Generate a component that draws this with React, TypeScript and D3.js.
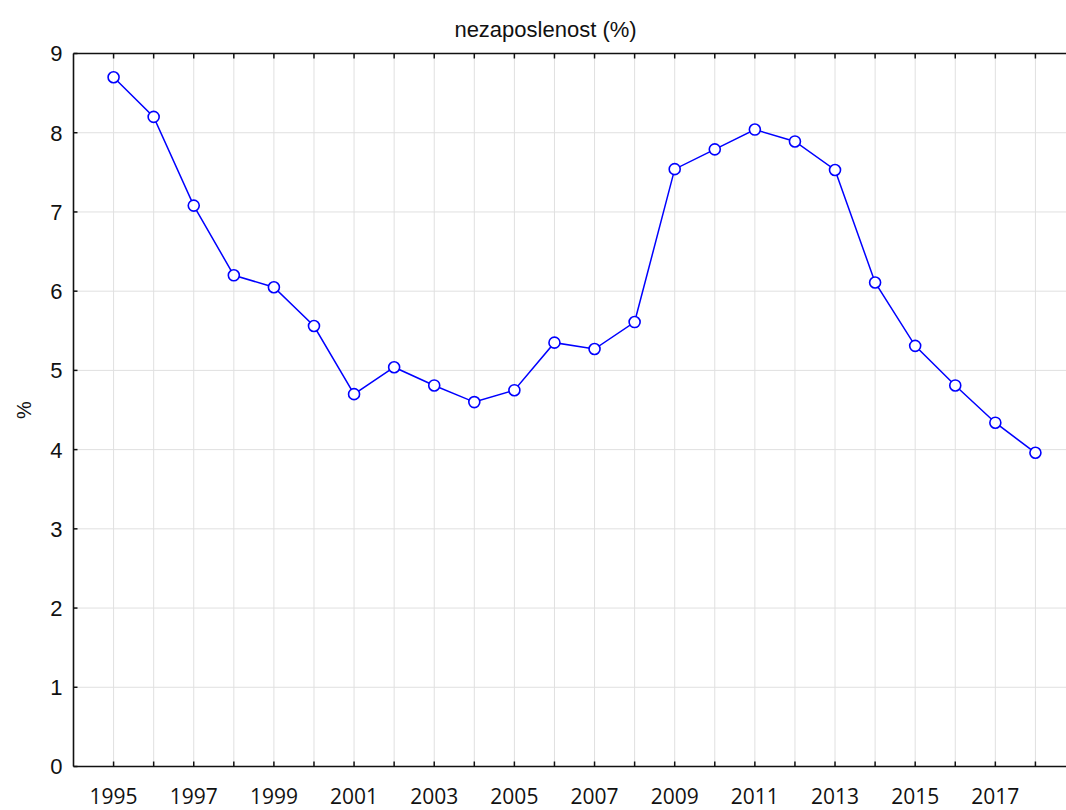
import React, { useEffect, useRef } from 'react';
import * as d3 from 'd3';

// unemployment rate by year
const years = [
  1995, 1996, 1997, 1998, 1999, 2000, 2001, 2002, 2003, 2004, 2005, 2006,
  2007, 2008, 2009, 2010, 2011, 2012, 2013, 2014, 2015, 2016, 2017, 2018,
];
const rates = [
  8.7, 8.2, 7.08, 6.2, 6.05, 5.56, 4.7, 5.04, 4.81, 4.6, 4.75, 5.35,
  5.27, 5.61, 7.54, 7.79, 8.04, 7.89, 7.53, 6.11, 5.31, 4.81, 4.34, 3.96,
];
const yTicks = [0, 1, 2, 3, 4, 5, 6, 7, 8, 9];
const xLabels = [1995, 1997, 1999, 2001, 2003, 2005, 2007, 2009, 2011, 2013, 2015, 2017];

const W = 1066;
const H = 810;

const App = () => {
  const ref = useRef<SVGSVGElement | null>(null);

  useEffect(() => {
    if (!ref.current) return;
    const svg = d3.select(ref.current);
    svg.selectAll('*').remove();

    const left = 73.5;
    const top = 53.5;
    const bottom = 766.5;

    const x = d3.scaleLinear().domain([1994, 2019]).range([left, left + 25 * 40.08]);
    const y = d3.scaleLinear().domain([0, 9]).range([bottom, top]);

    const g = svg.append('g');

    // grid
    g.selectAll('.vgrid')
      .data(years)
      .enter()
      .append('line')
      .attr('x1', d => x(d))
      .attr('x2', d => x(d))
      .attr('y1', top)
      .attr('y2', bottom)
      .attr('stroke', '#e0e0e0')
      .attr('stroke-width', 1);

    g.selectAll('.hgrid')
      .data(yTicks.filter(d => d > 0 && d < 9))
      .enter()
      .append('line')
      .attr('x1', left)
      .attr('x2', W)
      .attr('y1', d => y(d))
      .attr('y2', d => y(d))
      .attr('stroke', '#e0e0e0')
      .attr('stroke-width', 1);

    // frame lines
    const axisStroke = '#111';
    g.append('line').attr('x1', left).attr('x2', W).attr('y1', top).attr('y2', top)
      .attr('stroke', axisStroke).attr('stroke-width', 1.6);
    g.append('line').attr('x1', left).attr('x2', W).attr('y1', bottom).attr('y2', bottom)
      .attr('stroke', axisStroke).attr('stroke-width', 1.6);
    g.append('line').attr('x1', left).attr('x2', left).attr('y1', top).attr('y2', bottom)
      .attr('stroke', axisStroke).attr('stroke-width', 1.6);

    // inward ticks
    g.selectAll('.ttop')
      .data(years)
      .enter()
      .append('line')
      .attr('x1', d => x(d)).attr('x2', d => x(d))
      .attr('y1', top).attr('y2', top + 5)
      .attr('stroke', axisStroke).attr('stroke-width', 1.5);
    g.selectAll('.tbot')
      .data(years)
      .enter()
      .append('line')
      .attr('x1', d => x(d)).attr('x2', d => x(d))
      .attr('y1', bottom).attr('y2', bottom - 5)
      .attr('stroke', axisStroke).attr('stroke-width', 1.5);
    g.selectAll('.tleft')
      .data(yTicks)
      .enter()
      .append('line')
      .attr('x1', left).attr('x2', left + 4)
      .attr('y1', d => y(d)).attr('y2', d => y(d))
      .attr('stroke', axisStroke).attr('stroke-width', 1.5);

    // y labels
    g.selectAll('.ylab')
      .data(yTicks)
      .enter()
      .append('text')
      .attr('x', left - 11)
      .attr('y', d => y(d))
      .attr('dy', '0.36em')
      .attr('text-anchor', 'end')
      .style('font-family', '"Liberation Sans", Arial, sans-serif')
      .style('font-size', '22px')
      .attr('fill', '#111')
      .text(d => d);

    // x labels
    g.selectAll('.xlab')
      .data(xLabels)
      .enter()
      .append('text')
      .attr('x', d => x(d))
      .attr('y', bottom + 37)
      .attr('text-anchor', 'middle')
      .style('font-family', '"Open Sans", Lato, sans-serif')
      .style('font-size', '21px')
      .attr('fill', '#111')
      .text(d => d);

    // title
    g.append('text')
      .attr('x', 545.5)
      .attr('y', 36.5)
      .attr('text-anchor', 'middle')
      .style('font-family', '"Liberation Sans", Arial, sans-serif')
      .style('font-size', '22px')
      .attr('fill', '#111')
      .text('nezaposlenost (%)');

    // y axis title
    g.append('text')
      .attr('transform', `translate(31,410) rotate(-90)`)
      .attr('text-anchor', 'middle')
      .style('font-family', '"Liberation Sans", Arial, sans-serif')
      .style('font-size', '20px')
      .attr('fill', '#111')
      .text('%');

    // series
    const line = d3.line<number>()
      .x((_, i) => x(years[i]))
      .y(d => y(d));

    g.append('path')
      .datum(rates)
      .attr('d', line)
      .attr('fill', 'none')
      .attr('stroke', '#0000ff')
      .attr('stroke-width', 1.5);

    g.selectAll('.pt')
      .data(rates)
      .enter()
      .append('circle')
      .attr('cx', (_, i) => x(years[i]))
      .attr('cy', d => y(d))
      .attr('r', 5.5)
      .attr('fill', '#fff')
      .attr('stroke', '#0000ff')
      .attr('stroke-width', 1.6);
  }, []);

  return (
    <svg
      ref={ref}
      width={W}
      height={H}
      style={{ position: 'absolute', left: 0, top: 0, background: '#fff' }}
    />
  );
};

export default App;
